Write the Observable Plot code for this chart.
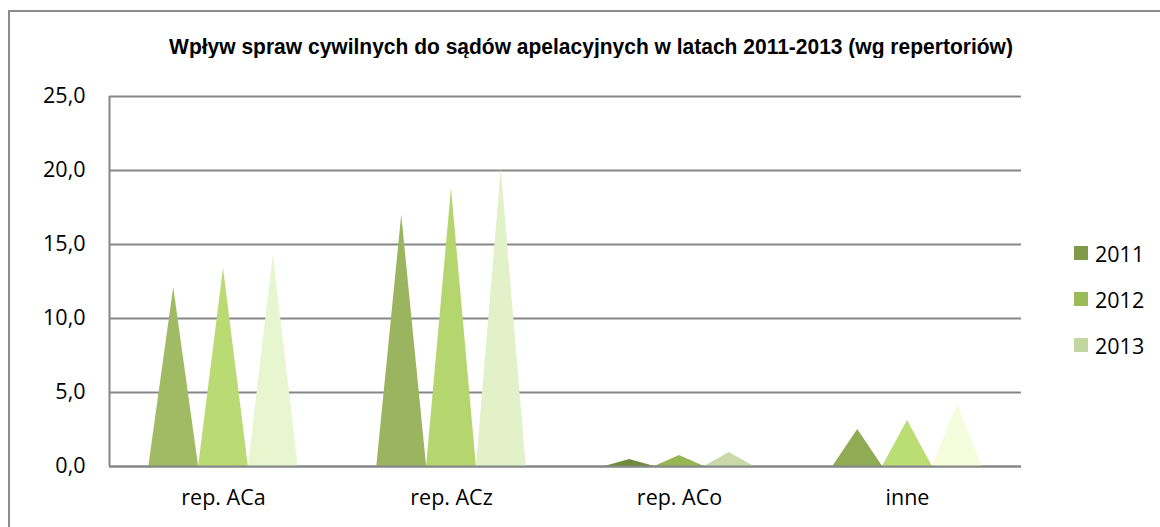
<!DOCTYPE html>
<html>
<head>
<meta charset="utf-8">
<script src="https://cdn.jsdelivr.net/npm/d3@7"></script>
<script src="https://cdn.jsdelivr.net/npm/@observablehq/plot@0.6"></script>
<style>
  html, body { margin: 0; padding: 0; background: #fff; }
  #wrap { position: relative; width: 1160px; height: 527px; overflow: hidden; font-family: "Open Sans", sans-serif; }
  #border { position: absolute; left: 8px; top: 10px; width: 1200px; height: 600px; border-top: 2px solid #8c8c8c; border-left: 2px solid #8c8c8c; }
  #title { position: absolute; left: 0; width: 1182px; top: 34px; text-align: center; font-family: "Liberation Sans Narrow", "Liberation Sans", sans-serif; font-weight: bold; font-size: 21px; color: #000; transform: scaleY(1.08); }
  #chart { position: absolute; left: 0; top: 0; }
  #legend { position: absolute; left: 1074px; top: 230px; }
  .item { display: flex; align-items: center; height: 46px; font-size: 21.5px; color: #000; }
  .sw { width: 14px; height: 14px; margin-right: 7px; }
</style>
</head>
<body>
<div id="wrap">
  <div id="border"></div>
  <div id="chart"></div>
  <div id="title"></div>
  <div id="legend"></div>
</div>
<script>
const titleText = "Wpływ spraw cywilnych do sądów apelacyjnych w latach 2011-2013 (wg repertoriów)";
const categories = ["rep. ACa", "rep. ACz", "rep. ACo", "inne"];
const years = ["2011", "2012", "2013"];
const values2011 = [12.1, 17.0, 0.47, 2.5];
const values2012 = [13.4, 18.8, 0.75, 3.1];
const values2013 = [14.3, 20.1, 0.95, 4.2];
const yTicks = [0, 5, 10, 15, 20, 25];
const yTickLabels = ["0,0", "5,0", "10,0", "15,0", "20,0", "25,0"];
const colors2011 = ["#a0bb64", "#9bb45f", "#6f8c3a", "#8fac55"];
const colors2012 = ["#badb74", "#b5d66f", "#97b755", "#badd74"];
const colors2013 = ["#e7f6cf", "#e2f1c8", "#c9d9a9", "#f5fddc"];
const legendColors = ["#7f9a48", "#9bbb59", "#c4d6a0"];

const seriesValues = [values2011, values2012, values2013];
const seriesColors = [colors2011, colors2012, colors2013];

// triangle outline points (base-left, apex, base-right) in the inner x scale of each category
const pts = [];
categories.forEach((cat, i) => {
  years.forEach((yr, j) => {
    const v = seriesValues[j][i];
    const c = seriesColors[j][i];
    pts.push({cat, key: cat + yr, x: j, y: 0, color: c});
    pts.push({cat, key: cat + yr, x: j + 0.5, y: v, color: c});
    pts.push({cat, key: cat + yr, x: j + 1, y: 0, color: c});
  });
});

document.getElementById("title").textContent = titleText;

const chart = Plot.plot({
  width: 1160,
  height: 527,
  marginLeft: 107,
  marginRight: 138,
  marginTop: 96,
  marginBottom: 61,
  style: {fontFamily: "Open Sans, sans-serif", fontSize: "21.5px", color: "#000", background: "transparent"},
  fx: {domain: categories, padding: 0, axis: "bottom", label: null, tickSize: 0, tickPadding: 23},
  x: {domain: [-0.79, 3.79], axis: null},
  y: {domain: [0, 25], ticks: yTicks, tickFormat: d => yTickLabels[yTicks.indexOf(d)], tickSize: 0, tickPadding: 24, label: null},
  color: {type: "identity"},
  marks: [
    Plot.ruleY(yTicks, {stroke: "#878787", strokeWidth: 2}),
    Plot.ruleX([categories[0]], {fx: d => d, x: () => -0.79, stroke: "#878787", strokeWidth: 2}),
    Plot.areaY(pts, {fx: "cat", x: "x", y: "y", z: "key", fill: "color"}),
    Plot.ruleY([0], {stroke: "#878787", strokeWidth: 2})
  ]
});
document.getElementById("chart").appendChild(chart);

const legend = document.getElementById("legend");
years.forEach((yr, j) => {
  const it = document.createElement("div");
  it.className = "item";
  const sw = document.createElement("div");
  sw.className = "sw";
  sw.style.background = legendColors[j];
  const t = document.createElement("span");
  t.textContent = yr;
  it.appendChild(sw);
  it.appendChild(t);
  legend.appendChild(it);
});
</script>
</body>
</html>
